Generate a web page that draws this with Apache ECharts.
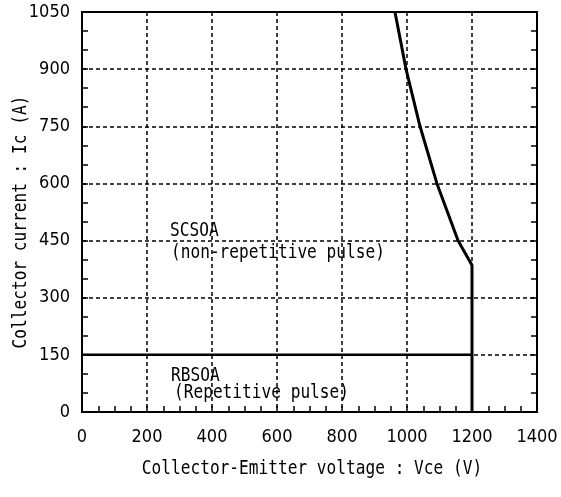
<!DOCTYPE html>
<html><head><meta charset="utf-8">
<script src="https://cdn.jsdelivr.net/npm/echarts@6/dist/echarts.min.js"></script>
<style>html,body{margin:0;padding:0;background:#fff}#c{width:561px;height:497px}</style>
</head><body><div id="c"></div>
<script>
// SCSOA boundary (non-repetitive pulse)
const scsoaVce = [963, 997, 1040, 1092, 1157, 1200, 1200];
const scsoaIc  = [1050, 900, 750, 600, 450, 385, 0];
// RBSOA boundary (repetitive pulse)
const rbsoaVce = [0, 1200];
const rbsoaIc  = [150, 150];
const xTicks = [0, 200, 400, 600, 800, 1000, 1200, 1400];
const yTicks = [0, 150, 300, 450, 600, 750, 900, 1050];
const xTitle = 'Collector-Emitter voltage : Vce (V)';
const yTitle = 'Collector current : Ic (A)';
const notes = ['SCSOA', '(non-repetitive pulse)', 'RBSOA', '(Repetitive pulse)'];

const chart = echarts.init(document.getElementById('c'));
const labelFont = '"DejaVu Sans Condensed", "Noto Sans CJK JP", sans-serif';
const monoFont = '"DejaVu Sans Mono", monospace';
const dash = {type: [4, 3], color: '#000', width: 1.5};
const tickLine = {color: '#000', width: 1.5};
function txt(text, x, y, align, vAlign, rotation) {
  return {type: 'text', x: x, y: y, scaleX: 0.85, rotation: rotation || 0, silent: true,
    style: {text: text, x: 0, y: 0, font: '19px ' + monoFont, fill: '#000',
      align: align, verticalAlign: vAlign}};
}
chart.setOption({
  animation: false,
  backgroundColor: '#fff',
  grid: {left: 82, right: 24, top: 12, bottom: 85, show: true, borderColor: '#000', borderWidth: 2,
    containLabel: false, outerBoundsMode: 'none'},
  xAxis: [{
    type: 'value', min: xTicks[0], max: xTicks[xTicks.length-1], interval: 200,
    axisLine: {lineStyle: {color: '#000', width: 2}},
    axisTick: {show: true, inside: true, length: 6, lineStyle: tickLine},
    minorTick: {show: true, splitNumber: 4, length: 6, lineStyle: tickLine},
    axisLabel: {fontFamily: labelFont, fontSize: 18, color: '#000', margin: 16,
      formatter: v => String(v)},
    splitLine: {show: true, lineStyle: dash}
  }],
  yAxis: [{
    type: 'value', min: yTicks[0], max: yTicks[yTicks.length-1], interval: 150,
    axisLine: {lineStyle: {color: '#000', width: 2}},
    axisTick: {show: true, inside: true, length: 6, lineStyle: tickLine},
    minorTick: {show: true, splitNumber: 3, length: 6, lineStyle: tickLine},
    axisLabel: {fontFamily: labelFont, fontSize: 18, color: '#000', margin: 12,
      formatter: v => String(v)},
    splitLine: {show: true, lineStyle: dash}
  }, {
    type: 'value', position: 'right', min: yTicks[0], max: yTicks[yTicks.length-1], interval: 150,
    axisLine: {show: true, lineStyle: {color: '#000', width: 2}},
    axisTick: {show: true, inside: true, length: 6, lineStyle: tickLine},
    minorTick: {show: true, splitNumber: 3, length: 6, lineStyle: tickLine},
    axisLabel: {show: false},
    splitLine: {show: false}
  }],
  series: [{
    type: 'line', data: scsoaVce.map((v, i) => [v, scsoaIc[i]]), showSymbol: false,
    lineStyle: {color: '#000', width: 3}
  }, {
    type: 'line', data: rbsoaVce.map((v, i) => [v, rbsoaIc[i]]), showSymbol: false,
    lineStyle: {color: '#000', width: 2.5}
  }],
  graphic: [
    txt(notes[0], 170, 241, 'left', 'bottom'),
    txt(notes[1], 171, 263, 'left', 'bottom'),
    txt(notes[2], 171, 386, 'left', 'bottom'),
    txt(notes[3], 174, 403, 'left', 'bottom'),
    txt(xTitle, 312, 469, 'center', 'middle'),
    txt(yTitle, 21, 222, 'center', 'middle', Math.PI / 2)
  ]
});
</script></body></html>
